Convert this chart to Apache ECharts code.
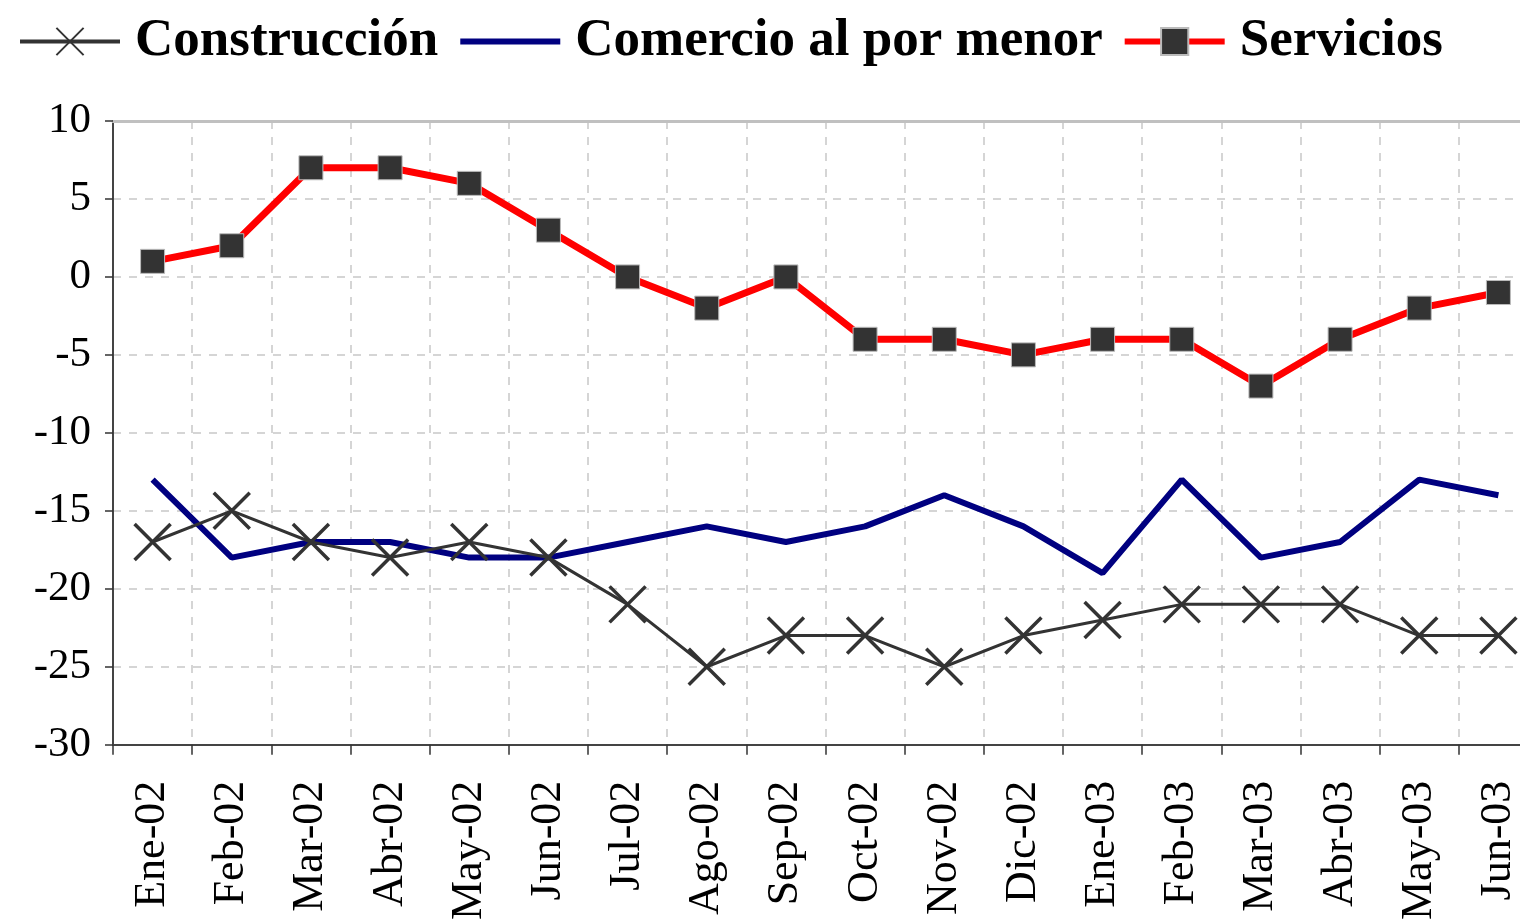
<!DOCTYPE html>
<html lang="es" style="height: 100%">
<head>
  <meta charset="UTF-8" />
  <title>Construcción, Comercio, Servicios</title>
  <script src="https://cdn.jsdelivr.net/npm/echarts@6.0.0/dist/echarts.min.js"></script>
  <style>
    html, body {
      height: 100%;
      margin: 0;
      overflow: hidden;
      background-color: #fff;
    }
    /* plot runs past the right edge of the picture, as in the original */
    #chart {
      width: 1538px;
      height: 923px;
    }
  </style>
</head>
<body>
  <div id="chart"></div>

  <script>
    const months = ['Ene-02', 'Feb-02', 'Mar-02', 'Abr-02', 'May-02', 'Jun-02', 'Jul-02', 'Ago-02', 'Sep-02',
      'Oct-02', 'Nov-02', 'Dic-02', 'Ene-03', 'Feb-03', 'Mar-03', 'Abr-03', 'May-03', 'Jun-03'];

    const construccion = [-17, -15, -17, -18, -17, -18, -21, -25, -23, -23, -25, -23, -22, -21, -21, -21, -23, -23];
    const comercio = [-13, -18, -17, -17, -18, -18, -17, -16, -17, -16, -14, -16, -19, -13, -18, -17, -13, -14];
    const servicios = [1, 2, 7, 7, 6, 3, 0, -2, 0, -4, -4, -5, -4, -4, -7, -4, -2, -1];

    const serif = '"Liberation Serif", "DejaVu Serif", serif';
    const cross = 'path://M0,0L10,10M10,0L0,10';

    const chart = echarts.init(document.getElementById('chart'));

    chart.setOption({
      backgroundColor: '#fff',
      animation: false,
      legend: {
        left: 13,
        top: 10,
        itemWidth: 100,
        itemHeight: 34,
        itemGap: 19,
        textStyle: {
          fontFamily: serif,
          fontWeight: 'bold',
          fontSize: 53,
          color: '#000',
          padding: [0, 0, 0, 10]
        },
        data: [
          { name: 'Construcción', lineStyle: { width: 4 } },
          // plain line in the key, no marker
          { name: 'Comercio al por menor', itemStyle: { opacity: 0 }, lineStyle: { width: 6 } },
          { name: 'Servicios', lineStyle: { width: 6 } }
        ]
      },
      grid: {
        left: 113,
        top: 121,
        right: 0,
        bottom: 176,
        containLabel: false
      },
      xAxis: [
        {
          type: 'category',
          data: months,
          boundaryGap: true,
          axisLine: { onZero: false, lineStyle: { color: '#444', width: 2 } },
          axisTick: { show: true, length: 10, lineStyle: { color: '#333', width: 1.5 } },
          axisLabel: {
            rotate: 90,
            margin: 36,
            fontFamily: serif,
            fontSize: 44,
            color: '#000'
          },
          splitLine: { show: true, lineStyle: { color: '#c8c8c8', type: [8, 8], width: 1.5 } }
        },
        {
          type: 'category',
          data: months,
          position: 'top',
          axisLine: { onZero: false, lineStyle: { color: '#c0c0c0', width: 3 } },
          axisTick: { show: false },
          axisLabel: { show: false },
          splitLine: { show: false }
        }
      ],
      yAxis: {
        type: 'value',
        min: -30,
        max: 10,
        interval: 5,
        axisLine: { show: true, lineStyle: { color: '#444', width: 2 } },
        axisTick: { show: true, length: 8, lineStyle: { color: '#333', width: 1.5 } },
        axisLabel: {
          margin: 22,
          fontFamily: serif,
          fontSize: 43,
          color: '#000'
        },
        splitLine: { show: true, lineStyle: { color: '#c8c8c8', type: [8, 8], width: 1.5 } }
      },
      series: [
        {
          name: 'Construcción',
          type: 'line',
          data: construccion,
          symbol: cross,
          symbolSize: 36,
          showAllSymbol: true,
          lineStyle: { color: '#333', width: 3 },
          itemStyle: { color: 'none', borderColor: '#333', borderWidth: 3.5 },
          z: 3
        },
        {
          name: 'Comercio al por menor',
          type: 'line',
          data: comercio,
          symbol: 'none',
          lineStyle: { color: '#000080', width: 6 },
          itemStyle: { color: '#000080' },
          z: 2
        },
        {
          name: 'Servicios',
          type: 'line',
          data: servicios,
          symbol: 'rect',
          symbolSize: 24,
          showAllSymbol: true,
          lineStyle: { color: '#ff0000', width: 7 },
          itemStyle: { color: '#333', borderColor: '#bbb', borderWidth: 1 },
          z: 4
        }
      ]
    });
  </script>
</body>
</html>
